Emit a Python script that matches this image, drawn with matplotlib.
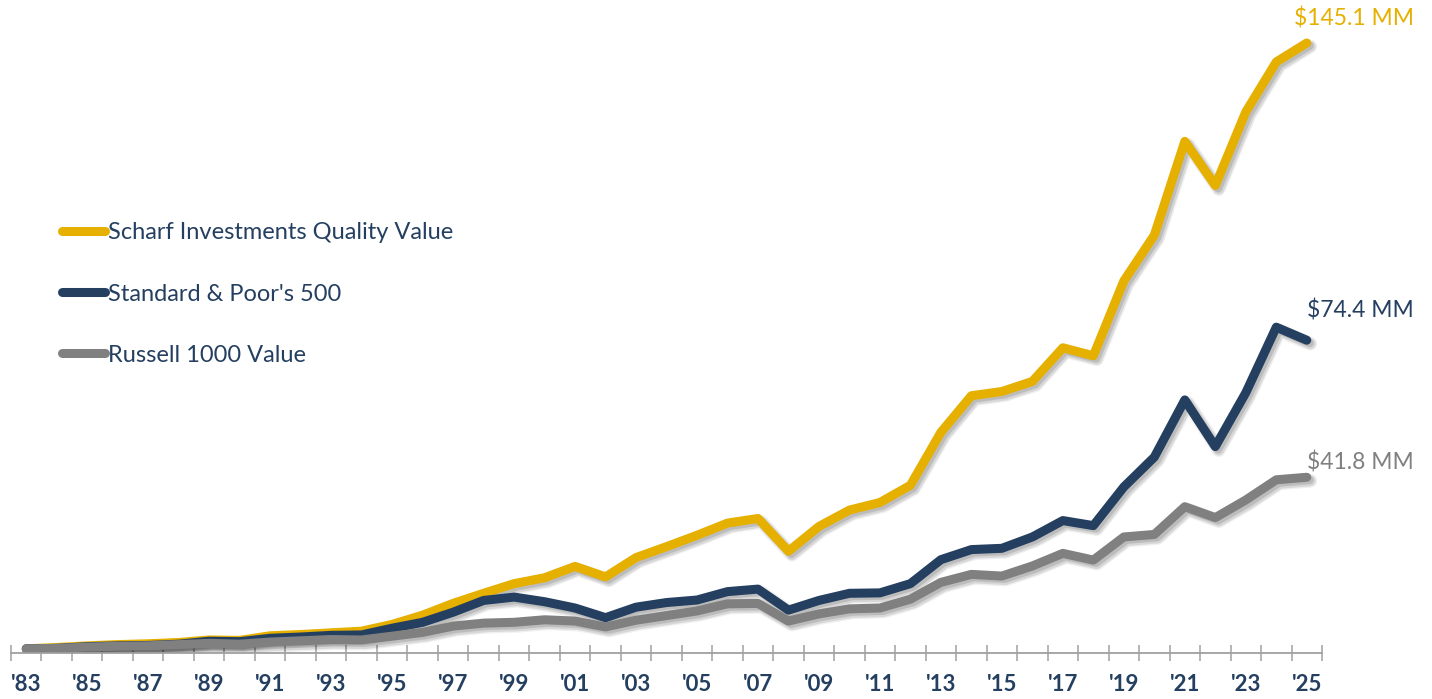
import matplotlib
matplotlib.use("Agg")
import matplotlib.pyplot as plt
import matplotlib.patheffects as pe
import numpy as np

years = list(range(1983, 2026))
tick_labels = ["'" + str(y)[2:] for y in years[::2]]

scharf = [1.0, 1.3, 1.7, 2.0, 2.2, 2.5, 3.1, 3.0, 4.1, 4.4, 4.8, 5.2, 6.8, 9.0,
          11.8, 14.2, 16.5, 17.9, 20.6, 18.1, 22.7, 25.3, 28.0, 30.9, 32.0, 24.2,
          30.1, 34.0, 35.8, 39.9, 52.5, 61.2, 62.2, 64.6, 72.6, 70.7, 88.5, 99.4,
          121.7, 111.2, 128.7, 140.6, 145.1]
sp500 = [1.0, 1.1, 1.5, 1.7, 1.8, 2.1, 2.8, 2.7, 3.5, 3.8, 4.2, 4.3, 5.9, 7.3,
         9.7, 12.5, 13.3, 12.2, 10.7, 8.4, 10.9, 12.0, 12.6, 14.6, 15.2, 10.2,
         12.5, 14.2, 14.3, 16.5, 22.2, 24.6, 24.9, 27.6, 31.5, 30.3, 39.5, 46.6,
         60.2, 49.1, 61.9, 77.5, 74.4]
russell = [1.0, 1.1, 1.4, 1.6, 1.7, 2.0, 2.3, 2.1, 2.6, 2.9, 3.2, 3.1, 4.0, 4.9,
           6.4, 7.1, 7.3, 7.9, 7.6, 6.2, 7.8, 8.9, 10.0, 11.7, 11.8, 7.6, 9.3,
           10.5, 10.7, 12.8, 16.8, 18.7, 18.3, 20.7, 23.7, 22.1, 27.6, 28.2, 34.8,
           32.2, 36.4, 41.2, 41.8]

names = ["Scharf Investments Quality Value", "Standard & Poor's 500", "Russell 1000 Value"]
end_labels = ["$145.1 MM", "$74.4 MM", "$41.8 MM"]
colors = ["#E6B000", "#243F60", "#808080"]

FONT = "Lato"
FS = 16.5
LFS = 17
W, H = 1432, 699
fig = plt.figure(figsize=(W / 100, H / 100), dpi=100)
ax_l, ax_r, ax_b, ax_t = 11, 1322, 653, 22.4
ax = fig.add_axes([ax_l / W, (H - ax_b) / H, (ax_r - ax_l) / W, (ax_b - ax_t) / H])

x = np.arange(len(years))
shadow = [pe.SimpleLineShadow(offset=(2.5, -2.5), shadow_color="black", alpha=0.06, linewidth=10),
          pe.SimpleLineShadow(offset=(2.5, -2.5), shadow_color="black", alpha=0.10, linewidth=8),
          pe.SimpleLineShadow(offset=(2, -2), shadow_color="black", alpha=0.12, linewidth=6),
          pe.Normal()]
handles = []
for series, name, c in zip([scharf, sp500, russell], names, colors):
    ln, = ax.plot(x, series, color=c, lw=6.5, solid_capstyle="round",
                  solid_joinstyle="round", label=name, path_effects=shadow)
    handles.append(ln)

ax.set_xlim(-0.5, len(years) - 0.5)
ax.set_ylim(0, 150)
for s in ["top", "right", "left"]:
    ax.spines[s].set_visible(False)
ax.spines["bottom"].set_color("#A0A0A0")
ax.spines["bottom"].set_linewidth(1.3)
ax.set_yticks([])
ax.set_xticks(np.arange(-0.5, len(years), 1.0))
ax.set_xticklabels([])
ax.tick_params(axis="x", which="major", direction="inout", length=12, width=1.1, color="#A0A0A0")
ax.set_xticks(x[::2], minor=True)
ax.set_xticklabels(tick_labels, minor=True, fontfamily=FONT, fontweight="bold",
                   fontsize=16, color="#243F60")
ax.tick_params(axis="x", which="minor", length=0, pad=15)

# end labels, right-aligned just beyond the plot area
xr = 1.0 + (1414 - ax_r) / (ax_r - ax_l)
for lbl, c, ypx in zip(end_labels, colors, [18, 310, 463]):
    ax.text(xr, (653 - ypx) / (653 - ax_t), lbl, transform=ax.transAxes,
            ha="right", va="center", color=c, fontsize=FS, fontfamily=FONT)

leg = ax.legend(handles=handles, loc="upper left",
                bbox_to_anchor=((63 - ax_l - 10) / (ax_r - ax_l), (653 - 213) / (653 - ax_t)),
                frameon=False, handlelength=1.8, handletextpad=0.12, labelspacing=1.7,
                prop={"family": FONT, "size": LFS}, borderaxespad=0)
for t in leg.get_texts():
    t.set_color("#243F60")
for lh in leg.legend_handles:
    lh.set_path_effects([])

fig.savefig("out.png", dpi=100)
